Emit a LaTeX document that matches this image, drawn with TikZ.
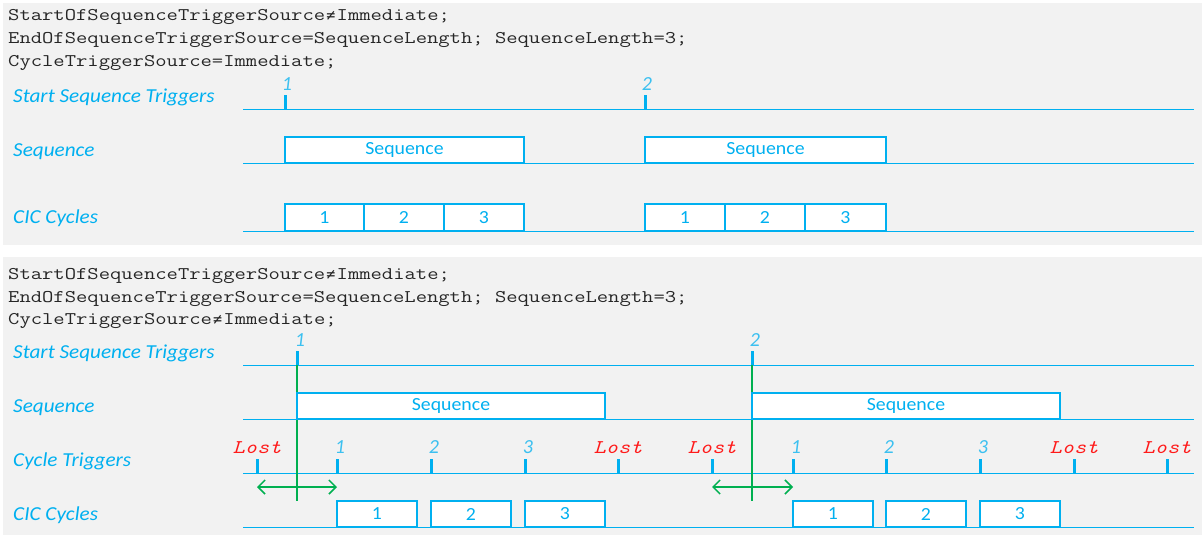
\documentclass[tikz,border=0pt]{standalone}
\usepackage{fontspec}
\setmainfont{Carlito}
\newfontfamily\lblfont[FakeStretch=1.07]{Carlito}
\newfontfamily\mono[FakeStretch=1.235]{Latin Modern Mono}
\newfontfamily\lostfont[FakeStretch=1.2]{Latin Modern Mono}
\newfontfamily\symfont{DejaVu Sans Mono}
\usetikzlibrary{arrows.meta}
\definecolor{cy}{HTML}{00B0F0}
\definecolor{cyl}{HTML}{3CC0F0}
\definecolor{gr}{HTML}{00B050}
\definecolor{rd}{HTML}{FF1A1A}
\definecolor{bg}{HTML}{F2F2F2}
\definecolor{codec}{HTML}{262626}
\newcommand{\neqsym}{\makebox[11.5pt]{\symfont\fontsize{15}{16}\selectfont ≠}}
\tikzset{
  axis/.style={draw=cy, line width=1pt},
  tickmark/.style={draw=cy, line width=3pt},
  boxn/.style={draw=cy, fill=white, line width=2pt, inner sep=0pt, font=\fontsize{18.5}{20}\lblfont, text=cy},
  lbl/.style={anchor=base west, inner sep=0pt, text=cy, font=\fontsize{19.8}{24}\lblfont\itshape},
  code/.style={anchor=base west, inner sep=0pt, text=codec, font=\fontsize{17.8}{20}\mono},
  num/.style={anchor=base, inner sep=0pt, text=cyl, font=\fontsize{20}{24}\selectfont\itshape},
  lost/.style={anchor=base, inner sep=0pt, text=rd, font=\fontsize{19.4}{24}\lostfont\itshape},
  garrow/.style={draw=gr, line width=1.5pt, {Straight Barb[length=7pt,width=14pt]}-{Straight Barb[length=7pt,width=14pt]}},
  gline/.style={draw=gr, line width=1.5pt},
}
\begin{document}
\begin{tikzpicture}[x=1pt,y=-1pt]
\useasboundingbox (0,0) rectangle (1202,535);
\fill[bg] (3,3) rectangle (1202,245);
\fill[bg] (3,257) rectangle (1202,535);

% ---------- Panel 1 ----------
\node[code] (c11) at (8,21) {StartOfSequenceTriggerSource\neqsym Immediate;};
\node[code] (c12) at (8,44) {EndOfSequenceTriggerSource=SequenceLength; SequenceLength=3;};
\node[code] (c13) at (8,66.5) {CycleTriggerSource=Immediate;};

\node[lbl] (l11) at (13,102) {Start Sequence Triggers};
\node[lbl] (l12) at (13,156) {Sequence};
\node[lbl] (l13) at (13,223) {CIC Cycles};

\draw[axis] (243,109) -- (1194,109);
\draw[axis] (243,163) -- (1194,163);
\draw[axis] (243,231) -- (1194,231);

\draw[tickmark] (285,95) -- (285,109);
\draw[tickmark] (645,95) -- (645,109);
\node[num] (n11) at (287,90) {1};
\node[num] (n12) at (647,90) {2};

\node[boxn, minimum width=239pt, minimum height=26pt] (s11) at (404.5,150) {Sequence};
\node[boxn, minimum width=241pt, minimum height=26pt] (s12) at (765.5,150) {Sequence};

\node[boxn, minimum width=79pt, minimum height=27pt] (b11) at (324.5,217.5) {1};
\node[boxn, minimum width=80pt, minimum height=27pt] (b12) at (404,217.5) {2};
\node[boxn, minimum width=80pt, minimum height=27pt] (b13) at (484,217.5) {3};
\node[boxn, minimum width=80pt, minimum height=27pt] (b14) at (685,217.5) {1};
\node[boxn, minimum width=80pt, minimum height=27pt] (b15) at (765,217.5) {2};
\node[boxn, minimum width=81pt, minimum height=27pt] (b16) at (845.5,217.5) {3};

% ---------- Panel 2 ----------
\node[code] (c21) at (8,279) {StartOfSequenceTriggerSource\neqsym Immediate;};
\node[code] (c22) at (8,302) {EndOfSequenceTriggerSource=SequenceLength; SequenceLength=3;};
\node[code] (c23) at (8,324.5) {CycleTriggerSource\neqsym Immediate;};

\node[lbl] (l21) at (13,358) {Start Sequence Triggers};
\node[lbl] (l22) at (13,412) {Sequence};
\node[lbl] (l23) at (13,466) {Cycle Triggers};
\node[lbl] (l24) at (13,520) {CIC Cycles};

\draw[axis] (243,365) -- (1194,365);
\draw[axis] (243,419) -- (1194,419);
\draw[axis] (243,473) -- (1194,473);
\draw[axis] (243,527) -- (1194,527);

% start triggers
\coordinate (t1) at (297,365);
\coordinate (t2) at (752,365);
\draw[tickmark] (297,351) -- (t1);
\draw[tickmark] (752,351) -- (t2);
\node[num] (n21) at (300,346) {1};
\node[num] (n22) at (755,346) {2};

% green lines
\coordinate (g1) at (297,501);
\coordinate (g2) at (752,501);
\draw[gline] (t1) -- (g1);
\draw[gline] (t2) -- (g2);

% sequence boxes
\node[boxn, minimum width=308pt, minimum height=26pt] (s21) at (451,406) {Sequence};
\node[boxn, minimum width=308pt, minimum height=26pt] (s22) at (906,406) {Sequence};

% cycle triggers
\foreach \x/\k in {257/a,337/b,431/c,525/d,618/e,712/f,793/g,886/h,980/i,1074/j,1167/k}{
  \coordinate (ct\k) at (\x,473);
  \draw[tickmark] (\x,459) -- (ct\k);
}
\foreach \x/\k in {257/a,618/e,712/f,1074/j,1167/k}{
  \node[lost] (lo\k) at (\x,453) {Lost};
}
\node[num] (cn1) at (340,453) {1};
\node[num] (cn2) at (434,453) {2};
\node[num] (cn3) at (528,453) {3};
\node[num] (cn4) at (796,453) {1};
\node[num] (cn5) at (889,453) {2};
\node[num] (cn6) at (983,453) {3};

% green arrows
\coordinate (a1) at (257,487);
\coordinate (a2) at (337,487);
\coordinate (a3) at (712,487);
\coordinate (a4) at (793,487);
\draw[garrow] (a1) -- (a2);
\draw[garrow] (a3) -- (a4);

% CIC boxes
\node[boxn, minimum width=80pt, minimum height=26pt] (b21) at (377,514) {1};
\node[boxn, minimum width=80pt, minimum height=26pt] (b22) at (471,514) {2};
\node[boxn, minimum width=80pt, minimum height=26pt] (b23) at (565,514) {3};
\node[boxn, minimum width=80pt, minimum height=26pt] (b24) at (833,514) {1};
\node[boxn, minimum width=80pt, minimum height=26pt] (b25) at (926,514) {2};
\node[boxn, minimum width=80pt, minimum height=26pt] (b26) at (1020,514) {3};
\end{tikzpicture}
\end{document}
